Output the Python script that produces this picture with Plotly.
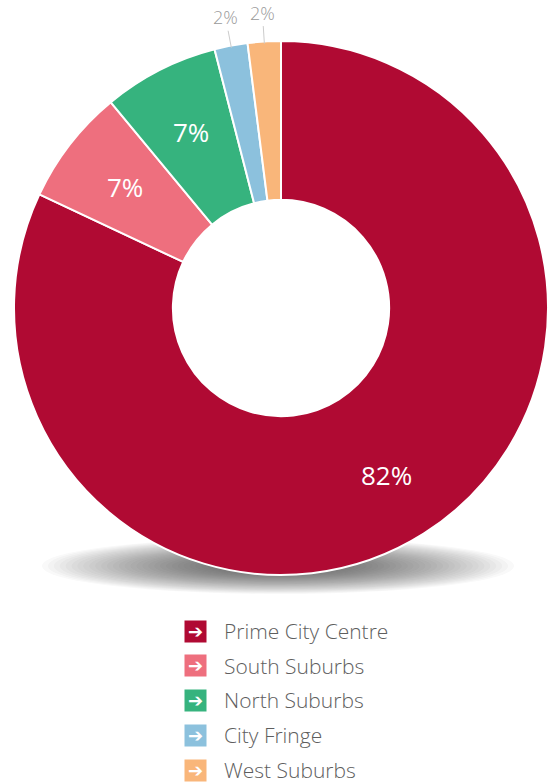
import plotly.graph_objects as go
import math

categories = ["Prime City Centre", "South Suburbs", "North Suburbs", "City Fringe", "West Suburbs"]
values = [82, 7, 7, 2, 2]
colors = ["#B00A33", "#EE6F7E", "#36B37E", "#8CC1DD", "#F9B67A"]
inside = [True, True, True, False, False]

W, H = 549, 783
FONT = "Open Sans"

# pie geometry in page pixels
PCX, PCY, PR = 281, 308, 267
HOLE = 0.405


def px_x(x):
    return x / W


def px_y(y):
    return 1 - y / H


fig = go.Figure()
fig.add_trace(go.Pie(
    labels=categories,
    values=values,
    marker=dict(colors=colors, line=dict(color="white", width=2)),
    hole=HOLE,
    sort=False,
    direction="clockwise",
    rotation=0,
    textinfo="none",
    domain=dict(x=[px_x(PCX - PR), px_x(PCX + PR)], y=[px_y(PCY + PR), px_y(PCY - PR)]),
    showlegend=False,
    hoverinfo="label+percent",
))

shapes = []
# soft shadow under the donut: stacked translucent ellipses
cx, cy, rx, ry = 278, 566, 236, 28
n = 40
for i in range(n):
    f = 1 - i / n
    shapes.append(dict(
        type="circle", xref="paper", yref="paper", layer="below",
        x0=px_x(cx - rx * f), x1=px_x(cx + rx * f),
        y0=px_y(cy + ry * f), y1=px_y(cy - ry * f),
        fillcolor="rgba(40,40,40,0.027)", line=dict(width=0),
    ))

annotations = []
# percentage labels, placed from the slice mid angles
total = sum(values)
cum = 0
for v, f in zip(values, inside):
    mid = 2 * math.pi * (cum + v / 2) / total
    cum += v
    sx, sy = math.sin(mid), -math.cos(mid)
    txt = "%d%%" % round(100 * v / total)
    if f:
        r = PR * (1 + HOLE) / 2 + 10
        annotations.append(dict(
            x=px_x(PCX + r * sx), y=px_y(PCY + r * sy), xref="paper", yref="paper",
            text=txt, showarrow=False,
            font=dict(family=FONT, size=26, color="white", weight=400),
            xanchor="center", yanchor="middle",
        ))
    else:
        ex, ey = PCX + (PR - 2) * sx, PCY + (PR - 2) * sy
        lx, ly = PCX + (PR + 29) * sx, PCY + (PR + 29) * sy
        annotations.append(dict(
            x=px_x(ex), y=px_y(ey), xref="paper", yref="paper",
            ax=lx - ex, ay=ly - ey, text=txt,
            showarrow=True, arrowhead=0, arrowwidth=1, arrowcolor="#cccccc", standoff=0,
            font=dict(family=FONT, size=18, color="#9a9a9a", weight=300),
        ))

row_y = [631, 665.5, 700, 735, 770]
for cat, col, y in zip(categories, colors, row_y):
    annotations.append(dict(
        x=px_x(195), y=px_y(y), xref="paper", yref="paper",
        text="<b>➔</b>", showarrow=False, font=dict(family="DejaVu Sans", size=18, color="white"),
        bgcolor=col, width=21, height=21, borderpad=0, xanchor="center", yanchor="middle",
    ))
    annotations.append(dict(
        x=px_x(222), y=px_y(y), xref="paper", yref="paper",
        text=cat, showarrow=False, font=dict(family=FONT, size=21, color="#5e5e5e", weight=300),
        xanchor="left", yanchor="middle",
    ))

fig.update_layout(
    width=W, height=H,
    margin=dict(l=0, r=0, t=0, b=0),
    paper_bgcolor="white", plot_bgcolor="white",
    shapes=shapes, annotations=annotations,
    font=dict(family=FONT),
)

fig.write_html("out.html", config={"displayModeBar": False},
               post_script="document.body.style.margin='0';document.body.style.overflow='hidden';")
